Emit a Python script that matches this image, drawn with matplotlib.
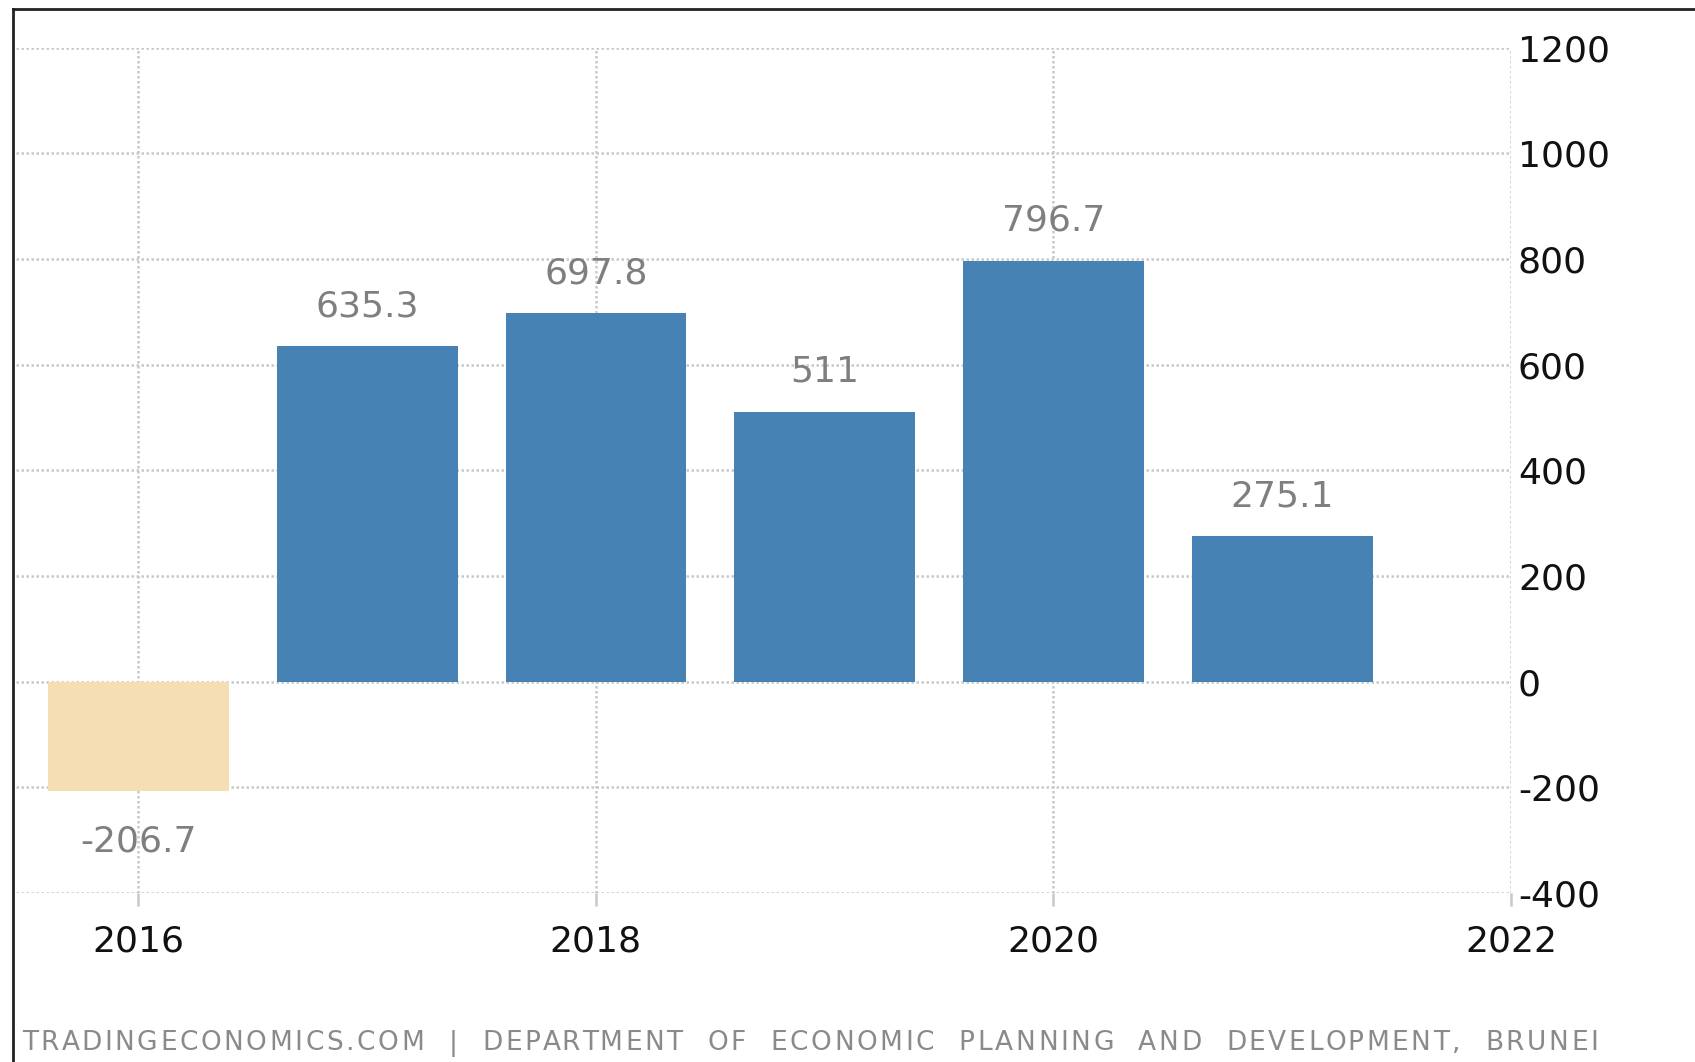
import matplotlib

matplotlib.use("Agg")
import matplotlib.pyplot as plt
from matplotlib.lines import Line2D

# Brunei yearly values
years = [2016, 2017, 2018, 2019, 2020, 2021]
values = [-206.7, 635.3, 697.8, 511, 796.7, 275.1]
xticks = [2016, 2018, 2020, 2022]
yticks = [-400, -200, 0, 200, 400, 600, 800, 1000, 1200]
footer = ("TRADINGECONOMICS.COM  |  DEPARTMENT  OF  ECONOMIC  PLANNING  "
          "AND  DEVELOPMENT,  BRUNEI")

POS = "#4682B4"
NEG = "#F5DEB3"
GRID = "#c8c8c8"
LABEL = "#7f7f7f"
INK = "#111111"

plt.rcParams["axes.unicode_minus"] = False

W, H = 1695, 1062
fig = plt.figure(figsize=(W / 100, H / 100), dpi=100)
fig.patch.set_facecolor("white")

# axes box in pixels: x 16..1511, y 47.6..893 from top
ax = fig.add_axes([16 / W, 1 - 893 / H, (1511 - 16) / W, (893 - 47.6) / H])

colors = [NEG if v < 0 else POS for v in values]
ax.bar(years, values, width=0.79, color=colors, zorder=3)

for x, v in zip(years, values):
    if v >= 0:
        ax.annotate(f"{v:g}", (x, v), xytext=(0, 21.5), textcoords="offset points",
                    ha="center", va="baseline", fontsize=26, color=LABEL, zorder=4)
    else:
        ax.annotate(f"{v:g}", (x, v), xytext=(0, -24), textcoords="offset points",
                    ha="center", va="top", fontsize=26, color=LABEL, zorder=4)

ax.set_xlim(2015.465, 2022)
ax.set_ylim(-400, 1200)
ax.set_xticks(xticks)
ax.set_yticks(yticks)
ax.yaxis.tick_right()
ax.tick_params(axis="y", length=0, pad=5, labelsize=26, labelcolor=INK)
ax.tick_params(axis="x", length=9, width=1.8, color=GRID, pad=14,
               labelsize=26, labelcolor=INK)
ax.grid(True, color=GRID, lw=1.8, linestyle=(0, (1, 1)), zorder=0)
ax.set_axisbelow(True)
for s in ax.spines.values():
    s.set_visible(False)

# footer, letter-spaced so it runs from x=22 to x=1598 like the source
fx0, fx1, fy = 22, 1598, 1 - 1050 / H
renderer = fig.canvas.get_renderer()


def text_width(s):
    t = fig.text(0, 0, s, fontsize=19)
    w = t.get_window_extent(renderer).width if s.strip() else 0
    t.remove()
    return w


full_w = text_width(footer.replace(" ", "\u00a0"))
extra = (fx1 - fx0 - full_w) / (len(footer) - 1)
for i, ch in enumerate(footer):
    if ch == " ":
        continue
    x = fx0 + text_width(footer[:i].replace(" ", "\u00a0")) + i * extra
    fig.text(x / W, fy, ch, fontsize=19, color="#8a8a8a", ha="left", va="baseline")

# outer frame: top and left edges only
fig.add_artist(Line2D([13 / W, 1], [1 - 9 / H, 1 - 9 / H], color="#222222", lw=2))
fig.add_artist(Line2D([13 / W, 13 / W], [0, 1 - 9 / H], color="#222222", lw=2))

fig.savefig("out.png", dpi=100)
